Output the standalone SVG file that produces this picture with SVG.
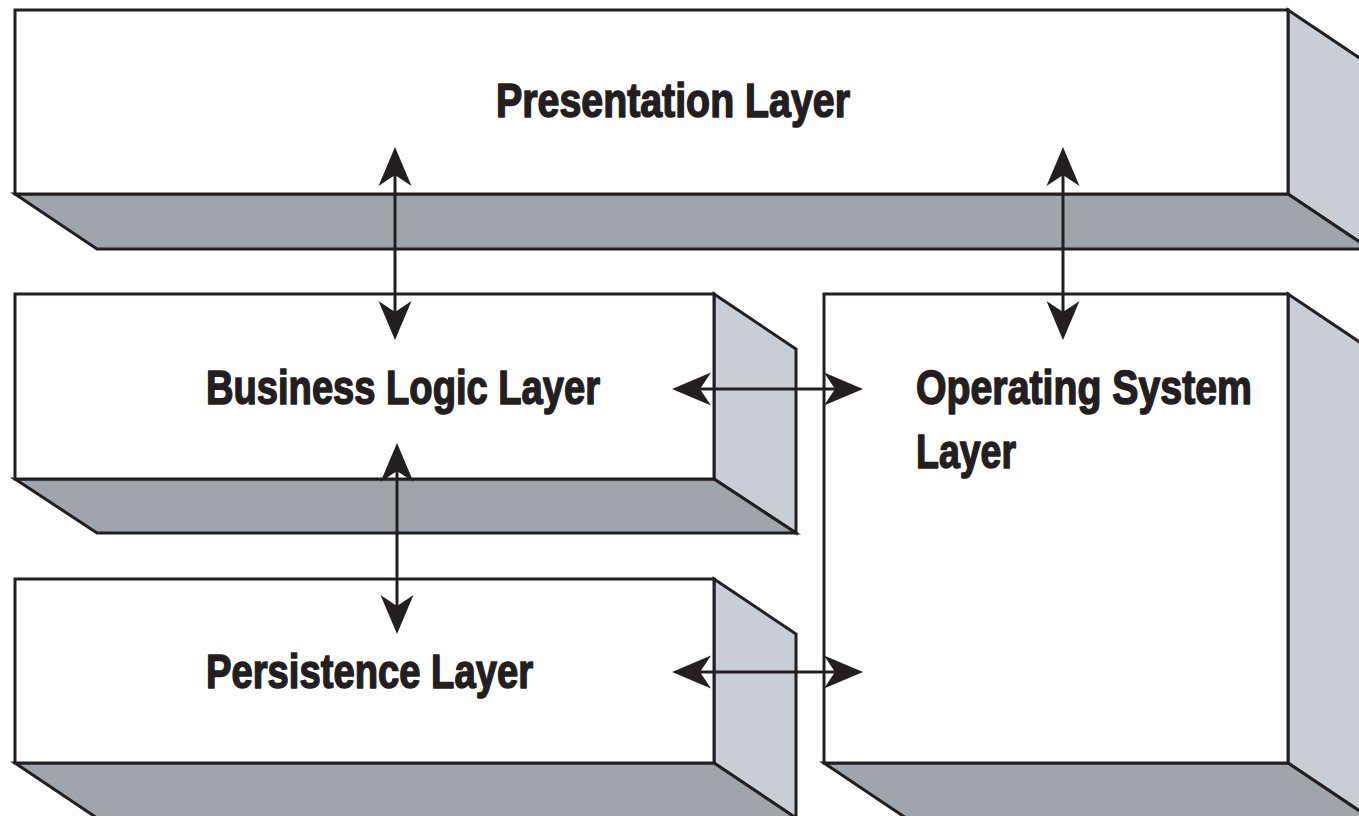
<svg xmlns="http://www.w3.org/2000/svg" width="1359" height="816" viewBox="0 0 1359 816">
<defs>
<style>
.front{fill:#ffffff;stroke:#231f20;stroke-width:3;stroke-linejoin:miter}
.bottom{fill:#9fa5ab;stroke:#231f20;stroke-width:3;stroke-linejoin:miter}
.side{fill:#c9cdd5;stroke:#231f20;stroke-width:3;stroke-linejoin:miter}
.lbl{font-family:"Liberation Sans",Arial,sans-serif;font-weight:bold;font-size:49px;fill:#231f20;stroke:#231f20;stroke-width:1.6;stroke-linejoin:round}
.conn{stroke:#231f20;stroke-width:3;fill:none;marker-start:url(#ah);marker-end:url(#ah)}
</style>
<marker id="ah" markerUnits="userSpaceOnUse" orient="auto-start-reverse" refX="0" refY="0" markerWidth="60" markerHeight="60" overflow="visible">
<path d="M15,0 L-24,-16.5 L-13,0 L-24,16.5 Z" fill="#231f20"/>
</marker>
</defs>
<rect width="1359" height="816" fill="#ffffff"/>

<g id="presentation">
<polygon class="side" points="1288,10 1370,65 1370,249 1288,194"/>
<polygon class="bottom" points="15,194 1288,194 1370,249 97,249"/>
<rect class="front" x="15" y="10" width="1273" height="184"/>
<text class="lbl" x="496" y="117" textLength="354" lengthAdjust="spacingAndGlyphs">Presentation Layer</text>
</g>

<g id="business">
<polygon class="side" points="714,294 796,349 796,533 714,479"/>
<polygon class="bottom" points="15,479 714,479 796,533 97,533"/>
<rect class="front" x="15" y="294" width="699" height="185"/>
<text class="lbl" x="206" y="404" textLength="394" lengthAdjust="spacingAndGlyphs">Business Logic Layer</text>
</g>

<g id="persistence">
<polygon class="side" points="714,579 796,634 796,818 714,763"/>
<polygon class="bottom" points="15,763 714,763 796,818 97,818"/>
<rect class="front" x="15" y="579" width="699" height="184"/>
<text class="lbl" x="206" y="688" textLength="327" lengthAdjust="spacingAndGlyphs">Persistence Layer</text>
</g>

<g id="os">
<polygon class="side" points="1288,294 1370,349 1370,818 1288,763"/>
<polygon class="bottom" points="824,763 1288,763 1370,818 906,818"/>
<rect class="front" x="824" y="294" width="464" height="469"/>
<text class="lbl" x="916" y="404" textLength="336" lengthAdjust="spacingAndGlyphs">Operating System</text>
<text class="lbl" x="916" y="468" textLength="100" lengthAdjust="spacingAndGlyphs">Layer</text>
</g>

<g id="connectors">
<line class="conn" x1="395" y1="162" x2="395" y2="325"/>
<line class="conn" x1="1063" y1="162" x2="1063" y2="325"/>
<line class="conn" x1="397" y1="458" x2="397" y2="619"/>
<line class="conn" x1="687" y1="389" x2="848" y2="389"/>
<line class="conn" x1="687" y1="672" x2="848" y2="672"/>
</g>
</svg>
